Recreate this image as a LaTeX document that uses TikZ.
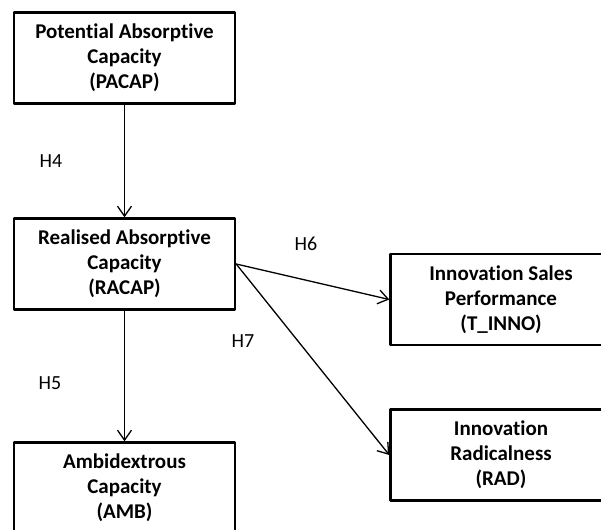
\documentclass[tikz,border=0pt]{standalone}
\usepackage{fontspec}
\setmainfont{Carlito}[Ligatures={NoCommon}]
\usetikzlibrary{arrows.meta}

\begin{document}
\begin{tikzpicture}[x=1pt,y=-1pt,line cap=round,line join=round,
  construct/.style={draw,line width=2.4pt,minimum width=221pt,minimum height=91pt,
    align=center,inner sep=0pt,font=\bfseries\fontsize{21}{25}\selectfont},
  link/.style={line width=1.3pt,-{Straight Barb[length=10pt,width=14pt]}},
  hyp/.style={inner sep=0pt,font=\fontsize{20}{24}\selectfont}]
  \clip (0,0) rectangle (601,529);
  \useasboundingbox (0,0) rectangle (601,529);
  % constructs
  \node[construct] (pacap) at (124.5,58) {Potential Absorptive\\Capacity\\(PACAP)};
  \node[construct] (racap) at (124.5,264) {Realised Absorptive\\Capacity\\(RACAP)};
  \node[construct] (amb) at (124.5,488) {Ambidextrous\\Capacity\\(AMB)};
  \node[construct] (tinno) at (501,299.5) {Innovation Sales\\Performance\\(T\_INNO)};
  \node[construct] (rad) at (501,455) {Innovation\\Radicalness\\(RAD)};
  % hypotheses
  \draw[link] (pacap) -- (racap);
  \draw[link] (racap) -- (amb);
  \draw[link] (racap.east) -- (tinno.west);
  \draw[link] (racap.east) -- (rad.west);
  \node[hyp] (h4) at (51,161) {H4};
  \node[hyp] (h5) at (50,383) {H5};
  \node[hyp] (h6) at (306,244) {H6};
  \node[hyp] (h7) at (243,341) {H7};
\end{tikzpicture}
\end{document}
